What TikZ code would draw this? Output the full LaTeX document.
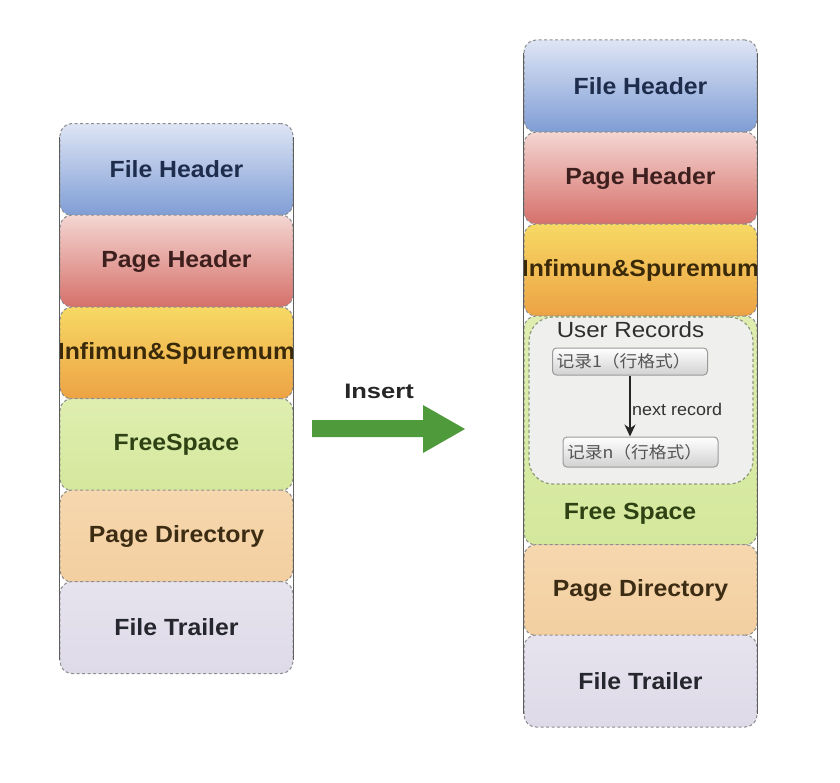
\documentclass[tikz,border=0pt]{standalone}
\usepackage{fontspec}
\setmainfont{Liberation Sans}
\newfontfamily\cjkfont{Noto Sans CJK SC}
\usepackage{graphicx}
\usetikzlibrary{arrows.meta}

\definecolor{bordergray}{HTML}{8E8E8E}
\definecolor{sidegray}{HTML}{5E5E5E}
\definecolor{fhTop}{HTML}{DEE5F5}
\definecolor{fhBot}{HTML}{7F9DD5}
\definecolor{phTop}{HTML}{F4D6D2}
\definecolor{phBot}{HTML}{D6706A}
\definecolor{isTop}{HTML}{F7D964}
\definecolor{isBot}{HTML}{EDA244}
\definecolor{fsTop}{HTML}{DFEEB0}
\definecolor{fsBot}{HTML}{D4E89C}
\definecolor{pdTop}{HTML}{F6D7AE}
\definecolor{pdBot}{HTML}{F3CFA0}
\definecolor{ftTop}{HTML}{E6E3EE}
\definecolor{ftBot}{HTML}{DEDAE8}
\definecolor{fhText}{HTML}{1F2D4D}
\definecolor{phText}{HTML}{3D1F1D}
\definecolor{isText}{HTML}{3A2A0A}
\definecolor{fsText}{HTML}{2E4214}
\definecolor{pdText}{HTML}{3D2C14}
\definecolor{ftText}{HTML}{26262E}
\definecolor{urFill}{HTML}{EFEFEE}
\definecolor{urBorder}{HTML}{8E9A7A}
\definecolor{recBorder}{HTML}{9A9A9A}
\definecolor{recText}{HTML}{555555}
\definecolor{insertGreen}{HTML}{4F9A3B}

\newcommand\bt[1]{\makebox[0pt][c]{\scalebox{1.06}[1]{\fontsize{23.5}{28}\selectfont\bfseries #1}}}

\tikzset{
  blk/.style={rounded corners=12bp, draw=bordergray, dash pattern=on 3bp off 2.5bp,
              line width=1bp, minimum width=233bp, inner sep=0pt},
  sideline/.style={draw=sidegray, line width=1bp},
  recbox/.style={rounded corners=4bp, draw=recBorder, line width=1bp,
                 top color=white, bottom color=black!18, minimum width=155bp,
                 text width=147bp, align=left, inner sep=4bp},
}

\begin{document}
\begin{tikzpicture}[x=1bp,y=-1bp]
\useasboundingbox[fill=white] (0,0) rectangle (840,783);

% ---------- left column ----------
\node[blk, top color=fhTop, bottom color=fhBot, minimum height=92bp, text=fhText] (L1) at (176.5,169.5) {\bt{File Header}};
\node[blk, top color=phTop, bottom color=phBot, minimum height=92bp, text=phText] (L2) at (176.5,261) {\bt{Page Header}};
\node[blk, top color=isTop, bottom color=isBot, minimum height=92bp, text=isText] (L3) at (176.5,353) {\bt{Infimun\&Spuremum}};
\node[blk, top color=fsTop, bottom color=fsBot, minimum height=92bp, text=fsText] (L4) at (176.5,444.5) {\bt{FreeSpace}};
\node[blk, top color=pdTop, bottom color=pdBot, minimum height=92bp, text=pdText] (L5) at (176.5,536) {\bt{Page Directory}};
\node[blk, top color=ftTop, bottom color=ftBot, minimum height=92bp, text=ftText] (L6) at (176.5,627.5) {\bt{File Trailer}};

\draw[sideline] ([yshift=-14bp]L1.north west) -- ([yshift=14bp]L6.south west);
\draw[sideline] ([yshift=-14bp]L1.north east) -- ([yshift=14bp]L6.south east);

% ---------- insert arrow ----------
\node[font=\fontsize{21}{24}\selectfont\bfseries, text=black!85] (ins) at (379,391) {\scalebox{1.22}[1]{Insert}};
\fill[insertGreen] (312,420) -- (423,420) -- (423,405) -- (465,429) -- (423,453) -- (423,437) -- (312,437) -- cycle;

% ---------- right column ----------
\node[blk, top color=fhTop, bottom color=fhBot, minimum height=92bp, text=fhText] (R1) at (640.5,86) {\bt{File Header}};
\node[blk, top color=phTop, bottom color=phBot, minimum height=92bp, text=phText] (R2) at (640.5,178) {\bt{Page Header}};
\node[blk, top color=isTop, bottom color=isBot, minimum height=92bp, text=isText] (R3) at (640.5,270) {\bt{Infimun\&Spuremum}};
\node[blk, top color=fsTop, bottom color=fsBot, minimum height=229bp] (R4) at (640.5,430.5) {};
\node[blk, top color=pdTop, bottom color=pdBot, minimum height=91bp, text=pdText] (R5) at (640.5,590) {\bt{Page Directory}};
\node[blk, top color=ftTop, bottom color=ftBot, minimum height=92bp, text=ftText] (R6) at (640.5,681) {\bt{File Trailer}};

\node[text=fsText] (fslabel) at (630,514) {\bt{Free Space}};

% user records area
\node[rounded corners=24bp, fill=urFill, draw=urBorder, dash pattern=on 3bp off 2.5bp,
      line width=1.2bp, minimum width=224bp, minimum height=167bp, inner sep=0pt] (ur) at (641,400.5) {};
\node[text=black!82] (urlabel) at (630.5,330) {\scalebox{1.1}[1]{\fontsize{22}{26}\selectfont User Records}};

\node[recbox, minimum height=27bp] (r1) at (630,361.5) {\scalebox{1.08}[1]{\cjkfont\fontsize{16.5}{18}\selectfont\color{recText}记录1（行格式）}};
\node[recbox, minimum height=30bp] (rn) at (640.5,452) {\scalebox{1.08}[1]{\cjkfont\fontsize{16.5}{18}\selectfont\color{recText}记录n（行格式）}};

\draw[-{Stealth[length=12bp,width=11bp]}, line width=2bp, black!85] (r1.south) -- (r1.south |- rn.north);
\node[anchor=west, text=black!80, inner sep=0pt] (nr) at (632,409) {\scalebox{1.06}[1]{\fontsize{17}{20}\selectfont next record}};

\draw[sideline] ([yshift=-14bp]R1.north west) -- ([yshift=14bp]R6.south west);
\draw[sideline] ([yshift=-14bp]R1.north east) -- ([yshift=14bp]R6.south east);
\end{tikzpicture}
\end{document}
